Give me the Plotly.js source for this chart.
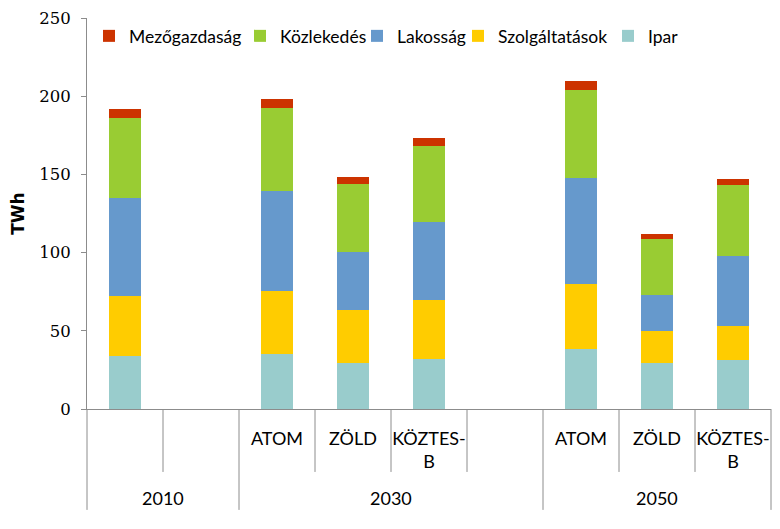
<!DOCTYPE html>
<html>
<head>
<meta charset="utf-8">
<script src="https://cdn.plot.ly/plotly-3.0.1.min.js"></script>
<style>html,body{margin:0;padding:0;background:#fff;}#chart{width:780px;height:529px;}</style>
</head>
<body>
<div id="chart"></div>
<script>
// ---- data ----
const years = ['2010', '2030', '2050'];
const barYear = ['2010', '2030', '2030', '2030', '2050', '2050', '2050'];
const barScenario = ['', 'ATOM', 'ZÖLD', 'KÖZTES-B', 'ATOM', 'ZÖLD', 'KÖZTES-B'];
const seriesNames = ['Ipar', 'Szolgáltatások', 'Lakosság', 'Közlekedés', 'Mezőgazdaság'];
const ipar       = [34.0, 35.3, 29.6, 32.1, 38.5, 29.6, 31.5];
const szolg      = [38.0, 40.2, 34.0, 37.9, 41.7, 20.0, 21.3];
const lakossag   = [63.0, 63.9, 36.8, 49.6, 67.5, 23.4, 45.1];
const kozlekedes = [51.0, 53.0, 43.5, 48.4, 56.2, 35.7, 45.3];
const mezogazd   = [5.8, 5.8, 4.4, 5.2, 5.7, 3.2, 3.9];
const yTicks = [0, 50, 100, 150, 200, 250];

// ---- styles ----
const colors = ['#99CCCC', '#FFCC00', '#6699CC', '#99CC33', '#CC3300'];
const lineColor = '#8c8c8c';
const labelFont = {family: 'Lato, "Liberation Sans", sans-serif', size: 18, color: '#000'};

// ---- slot layout: each year group gets its bars, plus one empty slot except the last group ----
const xPos = [];
const groupStart = {}, groupEnd = {};
let slot = 0;
years.forEach((yr, gi) => {
  groupStart[yr] = slot - 0.5;
  barYear.forEach((by, i) => { if (by === yr) { xPos[i] = slot; slot++; } });
  if (gi < years.length - 1) slot++;
  groupEnd[yr] = slot - 0.5;
});
const nSlots = slot;
const xMin = -0.5, xMax = nSlots - 0.5;
const toPaper = v => (v - xMin) / (xMax - xMin);

const values = [ipar, szolg, lakossag, kozlekedes, mezogazd];
// legend placement (text start pixels) for each legend item
const legendTextPx = [648, 498, 397, 280, 129];
const plotLeft = 87, plotW = 684;

const traces = values.map((vals, k) => ({
  type: 'bar',
  name: seriesNames[k],
  x: xPos,
  y: vals,
  marker: {color: colors[k], line: {width: 0}},
  legend: k === 0 ? 'legend' : 'legend' + (k + 1),
  hoverinfo: 'skip'
}));

const layout = {
  width: 780, height: 529,
  margin: {l: plotLeft, r: 780 - plotLeft - plotW, t: 18, b: 120},
  paper_bgcolor: '#fff', plot_bgcolor: '#fff',
  barmode: 'stack',
  bargap: 0.59,
  showlegend: true,
  xaxis: {
    type: 'linear', range: [xMin, xMax], fixedrange: true,
    showgrid: false, zeroline: false,
    showline: true, linecolor: lineColor, linewidth: 1,
    tickmode: 'array',
    tickvals: xPos.filter((p, i) => barScenario[i] !== ''),
    ticktext: barScenario.filter(s => s !== '').map(s => s.replace('-', '-<br>')),
    ticks: 'outside', ticklen: 13, tickcolor: 'rgba(0,0,0,0)',
    tickfont: labelFont
  },
  yaxis: {
    range: [0, 250], fixedrange: true,
    tickmode: 'array', tickvals: yTicks,
    showgrid: false, zeroline: false,
    showline: true, linecolor: lineColor, linewidth: 1,
    ticks: 'outside', ticklen: 5, tickcolor: lineColor,
    ticklabelstandoff: 7,
    tickfont: {family: '"DejaVu Serif", serif', size: 16.5, color: '#000'},
    title: {text: 'TWh', standoff: 10,
      font: {family: '"DejaVu Sans", sans-serif', size: 17, color: '#000', weight: 'bold'}}
  },
  shapes: [],
  annotations: []
};

// legends, one per series so the items sit where the reference has them
values.forEach((v, k) => {
  const key = k === 0 ? 'legend' : 'legend' + (k + 1);
  layout[key] = {
    orientation: 'h',
    x: (legendTextPx[k] - 40 - plotLeft) / plotW, xanchor: 'left',
    y: 0.954, yanchor: 'middle',
    bgcolor: 'rgba(0,0,0,0)', borderwidth: 0,
    font: {family: 'Lato, "Liberation Sans", sans-serif', size: 17.5, color: '#000'}
  };
});

// divider lines below the axis
const rowBottom = -0.161, groupBottom = -0.258;
const allBounds = [];
for (let b = xMin; b <= xMax + 1e-9; b += 1) allBounds.push(b);
const groupBounds = new Set();
years.forEach(yr => { groupBounds.add(groupStart[yr]); groupBounds.add(groupEnd[yr]); });
allBounds.forEach(b => {
  const full = groupBounds.has(b);
  layout.shapes.push({
    type: 'line', xref: 'paper', yref: 'paper',
    x0: toPaper(b), x1: toPaper(b), y0: 0, y1: full ? groupBottom : rowBottom,
    line: {color: lineColor, width: 1}
  });
});

// year group labels
years.forEach(yr => {
  layout.annotations.push({
    xref: 'x', yref: 'paper',
    x: (groupStart[yr] + groupEnd[yr]) / 2, y: -0.228,
    xanchor: 'center', yanchor: 'middle',
    text: yr, showarrow: false, font: labelFont
  });
});

Plotly.newPlot('chart', traces, layout, {staticPlot: true, displayModeBar: false});
</script>
</body>
</html>
